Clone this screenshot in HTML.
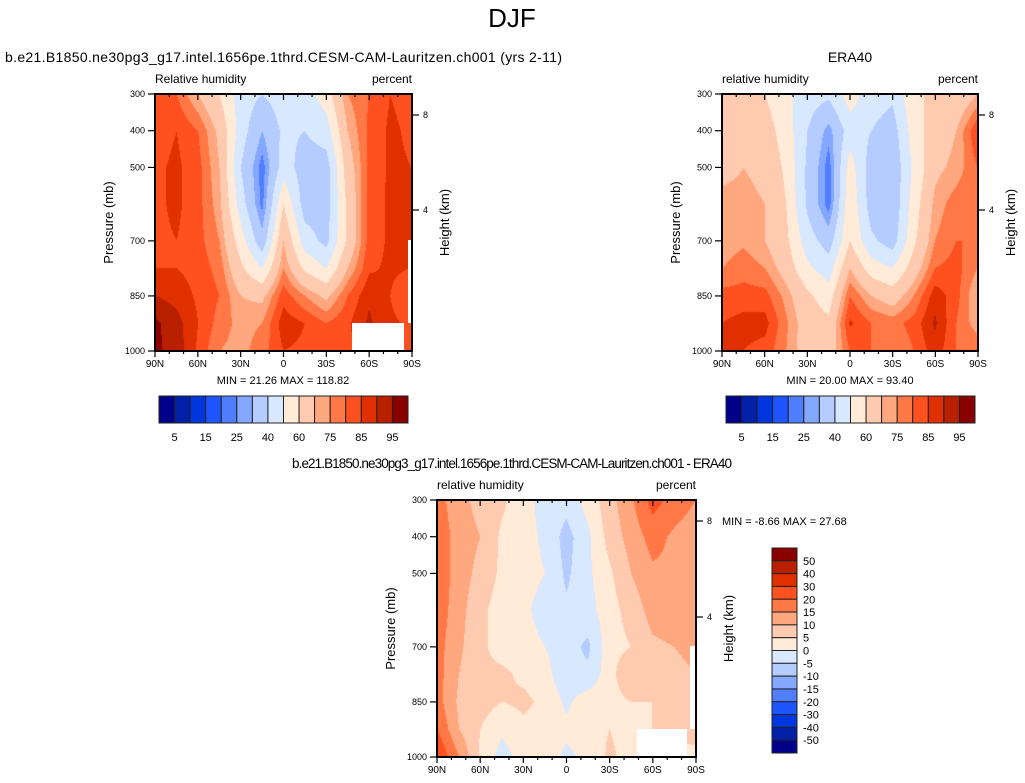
<!DOCTYPE html>
<html><head><meta charset="utf-8">
<style>
body{margin:0;background:#fff;width:1025px;height:783px;position:relative;overflow:hidden;font-family:"Liberation Sans",Arial,sans-serif}
canvas{position:absolute}
svg{position:absolute;left:0;top:0}
</style></head><body>
<canvas id="c1" style="left:155px;top:94px" width="257" height="257"></canvas>
<canvas id="c2" style="left:722px;top:94px" width="256" height="257"></canvas>
<canvas id="c3" style="left:437px;top:500px" width="259" height="257"></canvas>
<svg id="s" width="1025" height="783"></svg>
<script>
// latitude columns (90N..90S, 15deg steps), pressure levels
const lats=[90,75,60,45,30,15,0,-15,-30,-45,-60,-75,-90];
const levs=[300,400,500,600,700,775,850,925,1000];
const rhModel=[
[82,80,70,60,45,40,45,45,55,75,80,85,83],
[83,85,80,68,45,30,42,40,45,70,81,86,84],
[84,86,82,70,40,22,45,35,35,65,81,86,85],
[84,86,82,72,45,23,60,35,35,62,82,86,85],
[84,85,82,75,55,33,70,45,37,62,82,86,85],
[85,85,83,78,62,50,75,58,50,70,84,86,85],
[90,88,84,80,70,68,83,75,68,80,89,85,80],
[96,92,85,78,73,75,88,85,80,84,91,86,84],
[96,93,84,75,73,78,85,84,83,84,86,86,84]];
const rhEra=[
[65,62,60,52,45,42,55,45,42,58,62,62,70],
[68,68,65,55,40,27,45,40,35,55,65,70,85],
[68,70,68,58,38,22,55,35,32,52,68,72,80],
[72,72,70,60,38,22,58,35,32,55,72,78,80],
[72,74,70,62,45,35,60,42,35,58,75,80,80],
[75,78,75,66,52,45,70,55,50,65,80,82,75],
[82,82,82,73,62,55,80,70,65,75,88,82,70],
[85,87,87,76,65,62,86,80,78,82,91,80,72],
[87,85,83,75,65,65,80,80,75,80,88,80,80]];
const rhDiff=[
[17,12,8,6,2,-2,-3,2,8,14,22,18,15],
[18,13,10,4,2,-1,-7,-1,7,12,17,14,12],
[18,13,8,4,2,0,-6,-1,4,10,14,14,12],
[18,12,6,3,1,-2,-4,-2,3,7,12,13,12],
[17,11,6,3,2,0,-3,-6,3,5,9,10,12],
[17,10,6,6,4,2,-4,-4,3,10,6,8,10],
[17,9,7,5,6,4,-1,3,3,5,5,7,8],
[20,10,5,1,4,3,1,3,5,3,5,6,8],
[25,15,4,-2,2,2,-1,1,6,3,3,3,3]];
const rhLevels=[5,10,15,20,25,30,40,50,60,70,75,80,85,90,95];
const rhLabels=["5","15","25","40","60","75","85","95"];
const diffLevels=[-50,-40,-30,-20,-15,-10,-5,0,5,10,15,20,30,40,50];
const diffLabels=["50","40","30","20","15","10","5","0","-5","-10","-15","-20","-30","-40","-50"];
const palette=["#00008a","#0020a8","#0036e0","#1f55ff","#4f7fff","#84a8ff","#b4ccff","#d8e8ff","#ffebd8","#ffcbb0","#ffa880","#ff7845","#ff5020","#e03000","#b82000","#880000"];
const latTicks=[90,60,30,0,-30,-60,-90];
const latTickLabels=["90N","60N","30N","0","30S","60S","90S"];
const presTicks=[300,400,500,700,850,1000];
const heightTicks=[8,4];

function hex(c){return [parseInt(c.substr(1,2),16),parseInt(c.substr(3,2),16),parseInt(c.substr(5,2),16)];}
const pal=palette.map(hex);
function interp(ax,p){
  let i=0;while(i<ax.length-2&&((ax[0]>ax[1])?p<ax[i+1]:p>ax[i+1]))i++;
  return [i,(p-ax[i])/(ax[i+1]-ax[i])];
}
function field(grid,lat,p){
  const [i,fx]=interp(lats,lat);const [j,fy]=interp(levs,p);
  const a=grid[j][i],b=grid[j][i+1],c=grid[j+1][i],d=grid[j+1][i+1];
  return a*(1-fx)*(1-fy)+b*fx*(1-fy)+c*(1-fx)*fy+d*fx*fy;
}
function render(id,grid,levels){
  const cv=document.getElementById(id),ctx=cv.getContext('2d');
  const W=cv.width,H=cv.height,img=ctx.createImageData(W,H);
  for(let y=0;y<H;y++){const p=300+700*y/(H-1);
    for(let x=0;x<W;x++){const lat=90-180*x/(W-1);
      const v=field(grid,lat,p);let k=0;while(k<levels.length&&v>=levels[k])k++;
      const c=pal[k],o=(y*W+x)*4;img.data[o]=c[0];img.data[o+1]=c[1];img.data[o+2]=c[2];img.data[o+3]=255;}}
  ctx.putImageData(img,0,0);
}
render('c1',rhModel,rhLevels);render('c2',rhEra,rhLevels);render('c3',rhDiff,diffLevels);

const S=document.getElementById('s'),NS="http://www.w3.org/2000/svg";
function el(t,a,txt){const e=document.createElementNS(NS,t);for(const k in a)e.setAttribute(k,a[k]);if(txt!==undefined)e.textContent=txt;S.appendChild(e);return e;}
function txt(x,y,s,size,anchor,name,extra){const e=el('text',Object.assign({x:x,y:y,'font-size':size,'text-anchor':anchor||'start',fill:'#000'},extra||{}),s);

return e;}

function mask(x,y,w,h,name){const r=el('rect',{x:x,y:y,width:w,height:h,fill:'#fff'});

}
mask(352,323,52,28,'missing-data-mask');mask(408,240,3,83,'missing-data-strip');
mask(637,729,50,28,'missing-data-mask');mask(690,646,5,83,'missing-data-strip');

function panel(x0,y0,w,h,pfx,hTickY){
  const X=lat=>x0+(90-lat)/180*w, Y=p=>y0+(p-300)/700*h;
  const g=el('rect',{x:x0,y:y0,width:w,height:h,fill:'none',stroke:'#000','stroke-width':2});
  
  
  for(let lat=90;lat>=-90;lat-=10){const maj=lat%30===0;const L=maj?6:3;
    el('line',{x1:X(lat),x2:X(lat),y1:y0+h,y2:y0+h+L,stroke:'#000','stroke-width':1.2});
    el('line',{x1:X(lat),x2:X(lat),y1:y0,y2:y0+L,stroke:'#000','stroke-width':1.2});}
  latTicks.forEach((l,i)=>txt(X(l),y0+h+16,latTickLabels[i],10,'middle',pfx+'-x-tick-label'));
  presTicks.forEach(p=>{el('line',{x1:x0-7,x2:x0,y1:Y(p),y2:Y(p),stroke:'#000','stroke-width':1.2});
    txt(x0-10,Y(p)+3,String(p),9,'end',pfx+'-y-tick-label');});
  if(hTickY) heightTicks.forEach((hk,i)=>{el('line',{x1:x0+w,x2:x0+w+7,y1:hTickY[i],y2:hTickY[i],stroke:'#000','stroke-width':1.2});
    txt(x0+w+11,hTickY[i]+3,String(hk),9,'start',pfx+'-height-tick-label');});
  txt(x0-46,y0+h/2,'Pressure (mb)',13,'middle',pfx+'-y-axis-title',{transform:`rotate(-90 ${x0-46} ${y0+h/2})`,dy:4});
  txt(x0+w+37,y0+h/2,'Height (km)',13,'middle',pfx+'-right-axis-title',{transform:`rotate(-90 ${x0+w+37} ${y0+h/2})`,dy:0});
}
panel(155,94,257,257,'model',[115,210]);
panel(722,94,256,257,'era40',[115,210]);
panel(437,500,259,257,'diff',[521,617]);

txt(512,27,'DJF',26,'middle','main-title');
txt(5,62,'b.e21.B1850.ne30pg3_g17.intel.1656pe.1thrd.CESM-CAM-Lauritzen.ch001 (yrs 2-11)',14,'start','model-panel-title',{textLength:557});
txt(850,62,'ERA40',14,'middle','era40-panel-title');
txt(512,468,'b.e21.B1850.ne30pg3_g17.intel.1656pe.1thrd.CESM-CAM-Lauritzen.ch001 - ERA40',13.5,'middle','diff-panel-title',{textLength:440,lengthAdjust:'spacing'});
txt(155,83,'Relative humidity',12,'start','model-variable-label');txt(412,83,'percent',12,'end','model-units-label');
txt(722,83,'relative humidity',12,'start','era40-variable-label');txt(978,83,'percent',12,'end','era40-units-label');
txt(437,489,'relative humidity',12,'start','diff-variable-label');txt(696,489,'percent',12,'end','diff-units-label');
txt(283,384,'MIN =  21.26  MAX = 118.82',11,'middle','model-min-max');
txt(850,384,'MIN =  20.00  MAX = 93.40',11,'middle','era40-min-max');
txt(722,525,'MIN =  -8.66  MAX = 27.68',11,'start','diff-min-max');

function hbar(x0,name){const y=396,bw=249/16;
  palette.forEach((c,i)=>{const r=el('rect',{x:x0+i*bw,y:y,width:bw,height:27,fill:c,stroke:'#222','stroke-width':1});
  
  });
  rhLabels.forEach((l,i)=>txt(x0+(2*i+1)*bw,y+45,l,11,'middle',name+'-label'));}
hbar(159,'model-colorbar');hbar(726,'era40-colorbar');
(function(){const x=772,y=548,bh=205/16;
  for(let i=0;i<16;i++){const r=el('rect',{x:x,y:y+i*bh,width:25,height:bh,fill:palette[15-i],stroke:'#222','stroke-width':1});
  
  }
  diffLabels.forEach((l,i)=>txt(803,y+(i+1)*bh+4,l,11,'start','diff-colorbar-label'));})();
</script>
</body></html>
